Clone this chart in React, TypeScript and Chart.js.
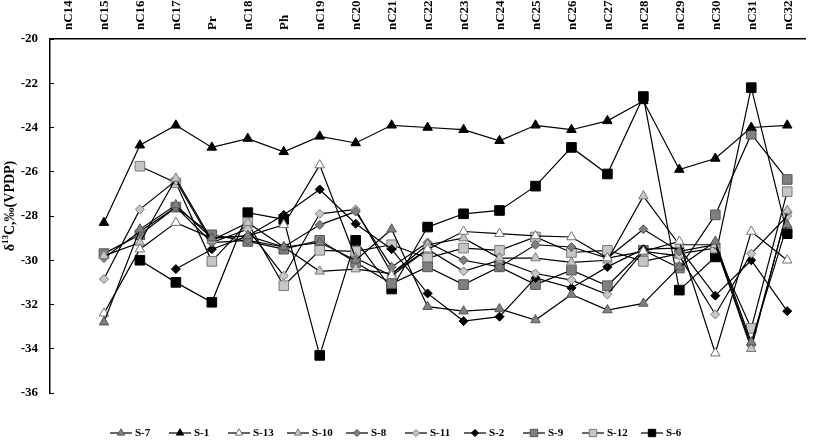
import React, { useEffect, useRef } from 'react';
import { Chart, registerables } from 'chart.js';

Chart.register(...registerables);

const categories = ['nC14', 'nC15', 'nC16', 'nC17', 'Pr', 'nC18', 'Ph', 'nC19', 'nC20', 'nC21', 'nC22', 'nC23', 'nC24', 'nC25', 'nC26', 'nC27', 'nC28', 'nC29', 'nC30', 'nC31', 'nC32'];

const yMin = -36;
const yMax = -20;
const yStep = 2;

const s7 = [null, -32.8, -28.6, -27.5, -29.0, -28.9, -29.4, -29.2, -30.0, -28.6, -32.1, -32.3, -32.2, -32.7, -31.55, -32.25, -31.95, -30.3, -29.15, -33.7, -28.4];
const s1 = [null, -28.3, -24.8, -23.9, -24.9, -24.5, -25.1, -24.4, -24.7, -23.9, -24.0, -24.1, -24.6, -23.9, -24.1, -23.7, -22.8, -25.9, -25.4, -24.0, -23.9];
const s13 = [null, -32.4, -29.5, -28.3, -29.0, -28.9, -28.4, -25.7, -29.9, -30.7, -29.5, -28.7, -28.8, -28.9, -28.95, -29.9, -29.6, -29.15, -34.2, -28.7, -30.0];
const s10 = [null, -29.8, -29.2, -26.3, -29.1, -28.3, -29.4, -30.5, -30.4, -30.6, -29.3, -29.0, -29.9, -29.9, -30.1, -30.0, -27.1, -29.3, -29.3, -34.0, -27.75];
const s8 = [null, -29.9, -28.7, -27.6, -29.2, -29.1, -29.4, -28.4, -27.8, -30.3, -29.2, -30.0, -30.3, -29.3, -29.4, -29.9, -28.6, -29.6, -29.3, -33.85, -27.8];
const s11 = [null, -30.85, -27.7, -26.4, -29.2, -28.6, -30.7, -27.9, -27.7, -30.6, -29.5, -30.5, -30.0, -30.6, -30.9, -31.55, -29.6, -29.8, -32.45, -29.7, -28.0];
const s2 = [null, null, null, -30.4, -29.5, -28.9, -27.95, -26.8, -28.35, -29.5, -31.5, -32.75, -32.55, -30.8, -31.25, -30.3, -29.5, -29.45, -31.6, -30.0, -32.3];
const s9 = [null, -29.7, -28.85, -27.6, -28.85, -29.15, -29.5, -29.1, -30.1, -31.05, -30.3, -31.1, -30.3, -31.1, -30.45, -31.15, -29.55, -30.35, -27.95, -24.3, -26.35];
const s12 = [null, null, -25.75, -26.5, -30.05, -28.3, -31.15, -29.55, -29.6, -29.3, -29.9, -29.45, -29.55, -28.95, -29.65, -29.55, -30.05, -29.7, -29.45, -33.08, -26.9];
const s6 = [null, null, -30.0, -31.0, -31.9, -27.85, -28.15, -34.3, -29.1, -31.3, -28.5, -27.9, -27.75, -26.65, -24.9, -26.1, -22.6, -31.35, -29.85, -22.2, -28.8];

const DARK = '#808080';
const LIGHT = '#c6c6c6';
const WHITE = '#ffffff';
const BLACK = '#000000';

type Spec = { label: string; data: (number | null)[]; shape: string; fill: string; stroke: string };

const series: Spec[] = [
  { label: 'S-7', data: s7, shape: 'triangle', fill: DARK, stroke: '#555555' },
  { label: 'S-1', data: s1, shape: 'triangle', fill: BLACK, stroke: BLACK },
  { label: 'S-13', data: s13, shape: 'triangle', fill: WHITE, stroke: '#707070' },
  { label: 'S-10', data: s10, shape: 'triangle', fill: LIGHT, stroke: '#7a7a7a' },
  { label: 'S-8', data: s8, shape: 'rectRot', fill: DARK, stroke: '#555555' },
  { label: 'S-11', data: s11, shape: 'rectRot', fill: LIGHT, stroke: '#7a7a7a' },
  { label: 'S-2', data: s2, shape: 'rectRot', fill: BLACK, stroke: BLACK },
  { label: 'S-9', data: s9, shape: 'rect', fill: DARK, stroke: '#555555' },
  { label: 'S-12', data: s12, shape: 'rect', fill: LIGHT, stroke: '#7a7a7a' },
  { label: 'S-6', data: s6, shape: 'rect', fill: BLACK, stroke: BLACK },
];

const yTitleParts = ['δ', '13', 'C,‰(VPDP)'];

const FONT = '"Liberation Serif", "Times New Roman", serif';

function radiusFor(shape: string) {
  if (shape === 'triangle') return 5.5;
  if (shape === 'rectRot') return 4.5;
  return 6.8;
}

function drawMarker(ctx: CanvasRenderingContext2D, shape: string, x: number, y: number, r: number, fill: string, stroke: string) {
  ctx.beginPath();
  if (shape === 'triangle') {
    ctx.moveTo(x, y - r);
    ctx.lineTo(x + r * 0.866, y + r / 2);
    ctx.lineTo(x - r * 0.866, y + r / 2);
    ctx.closePath();
  } else if (shape === 'rectRot') {
    ctx.moveTo(x, y - r);
    ctx.lineTo(x + r, y);
    ctx.lineTo(x, y + r);
    ctx.lineTo(x - r, y);
    ctx.closePath();
  } else {
    const s = r * 0.7071;
    ctx.rect(x - s, y - s, 2 * s, 2 * s);
  }
  ctx.fillStyle = fill;
  ctx.fill();
  ctx.strokeStyle = stroke;
  ctx.lineWidth = 1;
  ctx.stroke();
}

const decorPlugin = {
  id: 'decor',
  afterDraw(chart: any) {
    const ctx: CanvasRenderingContext2D = chart.ctx;
    const area = chart.chartArea;
    ctx.save();

    // top category labels (rotated, reading upward)
    const xs = chart.scales.x;
    ctx.font = `bold 13px ${FONT}`;
    ctx.fillStyle = BLACK;
    ctx.textAlign = 'left';
    ctx.textBaseline = 'middle';
    categories.forEach((c, i) => {
      const px = xs.getPixelForTick(i);
      ctx.save();
      ctx.translate(px + 1, area.top - 9);
      ctx.rotate(-Math.PI / 2);
      ctx.fillText(c, 0, 0);
      ctx.restore();
    });

    // y-axis title with superscript
    ctx.save();
    const big = `bold 14px ${FONT}`;
    const small = `bold 9px ${FONT}`;
    ctx.font = big;
    const w0 = ctx.measureText(yTitleParts[0]).width;
    const w2 = ctx.measureText(yTitleParts[2]).width;
    ctx.font = small;
    const w1 = ctx.measureText(yTitleParts[1]).width;
    const total = w0 + w1 + w2;
    const cy = 206;
    ctx.translate(10, cy + total / 2);
    ctx.rotate(-Math.PI / 2);
    ctx.textAlign = 'left';
    ctx.textBaseline = 'middle';
    ctx.font = big;
    ctx.fillText(yTitleParts[0], 0, 0);
    ctx.font = small;
    ctx.fillText(yTitleParts[1], w0, -4);
    ctx.font = big;
    ctx.fillText(yTitleParts[2], w0 + w1, 0);
    ctx.restore();

    // legend
    ctx.font = `bold 11px ${FONT}`;
    ctx.textBaseline = 'middle';
    ctx.textAlign = 'left';
    const y = 433;
    let x = 110;
    series.forEach((s) => {
      ctx.beginPath();
      ctx.moveTo(x, y);
      ctx.lineTo(x + 22, y);
      ctx.strokeStyle = BLACK;
      ctx.lineWidth = 1.2;
      ctx.stroke();
      const lr = s.shape === 'triangle' ? 4.2 : s.shape === 'rectRot' ? 3.6 : 5.2;
      drawMarker(ctx, s.shape, x + 11, y, lr, s.fill, s.stroke);
      ctx.fillStyle = BLACK;
      ctx.fillText(s.label, x + 25, y + 0.5);
      x += 59;
    });
    ctx.restore();
  },
};

export default function App() {
  const ref = useRef<HTMLCanvasElement | null>(null);

  useEffect(() => {
    if (!ref.current) return;
    Chart.defaults.font.family = FONT;
    Chart.defaults.color = '#000';
    const chart = new Chart(ref.current, {
      type: 'line',
      data: {
        labels: categories,
        datasets: series.map((s) => ({
          label: s.label,
          data: s.data,
          borderColor: BLACK,
          borderWidth: 1.2,
          backgroundColor: s.fill,
          pointStyle: s.shape as any,
          pointRadius: radiusFor(s.shape),
          pointHoverRadius: radiusFor(s.shape),
          pointBackgroundColor: s.fill,
          pointBorderColor: s.stroke,
          pointBorderWidth: 1,
          fill: false,
          tension: 0,
          spanGaps: false,
        })),
      },
      options: {
        animation: false,
        responsive: false,
        maintainAspectRatio: false,
        layout: { padding: { left: 0, top: 0, right: 1, bottom: 49 } },
        plugins: {
          legend: { display: false },
          tooltip: { enabled: false },
        },
        scales: {
          x: {
            position: 'top',
            offset: true,
            grid: { display: false, drawTicks: false },
            border: { display: true, color: BLACK, width: 1.5 },
            ticks: { display: false, autoSkip: false },
            afterFit: (scale: any) => {
              scale.height = 39;
            },
          },
          y: {
            min: yMin,
            max: yMax,
            grid: { display: true, drawOnChartArea: false, drawTicks: true, tickLength: -4, color: BLACK, lineWidth: 1 },
            border: { display: true, color: BLACK, width: 1.5 },
            ticks: {
              stepSize: yStep,
              padding: 16,
              color: BLACK,
              font: { size: 13, weight: 'bold', family: FONT },
            },
            title: { display: false },
            afterFit: (scale: any) => {
              scale.width = 50;
            },
          },
        },
      },
      plugins: [decorPlugin],
    });
    return () => chart.destroy();
  }, []);

  return (
    <div style={{ position: 'fixed', left: 0, top: 0, width: 813, height: 442, background: '#fff' }}>
      <canvas ref={ref} width={813} height={442} />
    </div>
  );
}
